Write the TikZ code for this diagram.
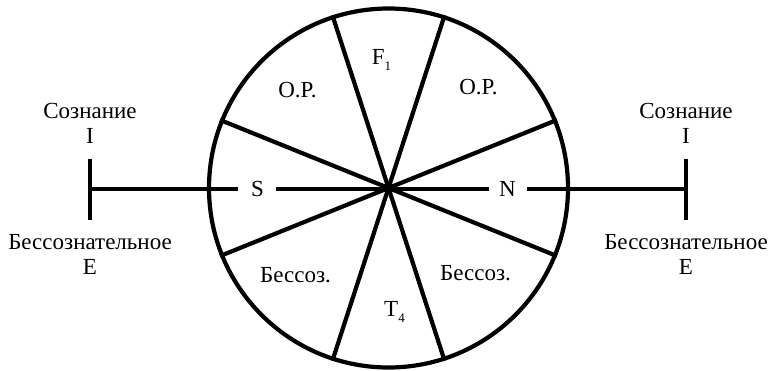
\documentclass[tikz,border=0pt]{standalone}
\usepackage{fontspec}
\setmainfont{Liberation Serif}
\usepackage{tikz}
\usetikzlibrary{positioning}
\newcommand{\bigtxt}{\fontsize{23}{25}\selectfont}
\newcommand{\lowidx}[1]{\raisebox{-6pt}{\fontsize{13}{13}\selectfont #1}}
\tikzset{
  rim/.style    ={circle,draw=black,line width=4.2pt,minimum size=359pt,inner sep=0pt},
  spoke/.style  ={line width=4.2pt,draw=black},
  axis/.style   ={line width=4.5pt,draw=black},
  sector/.style ={inner sep=0pt,font=\bigtxt},
  pole/.style   ={inner sep=0pt,align=center,font=\bigtxt},
  gapnode/.style={fill=white,inner sep=0pt,minimum width=38pt,minimum height=22pt,font=\bigtxt}
}

\begin{document}
\begin{tikzpicture}[x=1pt,y=1pt]
  \useasboundingbox (-388.5,-182) rectangle (384.5,188);
  % the wheel and its four diameters
  \node[rim] (wheel) at (0,0) {};
  \foreach \a/\b in {22/202,72/252,108/288,158/338}
    \draw[spoke] (wheel.\a) -- (wheel.\b);
  % the axis with its two end ticks
  \coordinate (ltop) at (-298.5,29);
  \coordinate (lbot) at (-298.5,-32);
  \coordinate (lmid) at (-298.5,-1);
  \coordinate (rtop) at (297.5,29);
  \coordinate (rbot) at (297.5,-32);
  \coordinate (rmid) at (297.5,-1);
  \draw[axis] (ltop) -- (lbot);
  \draw[axis] (rtop) -- (rbot);
  \draw[axis] (lmid) -- (rmid);
  \node[gapnode] (sens) at (-131,-1) {S};
  \node[gapnode] (intu) at (119,-1) {N};
  % sector labels
  \node[sector] (opl) at (-91,98) {O.P.};
  \node[sector] (opr) at (90,101) {O.P.};
  \node[sector] (fone) at (-7,128) {F\lowidx{1}};
  \node[sector] (bsl) at (-93,-87) {Бессоз.};
  \node[sector] (bsr) at (87,-85) {Бессоз.};
  \node[sector] (tfour) at (6,-124) {T\lowidx{4}};
  % pole labels
  \node[pole,above=15pt of ltop] (lcon) {Сознание\\I};
  \node[pole,below=14pt of lbot] (lunc) {Бессознательное\\E};
  \node[pole,above=15pt of rtop] (rcon) {Сознание\\I};
  \node[pole,below=14pt of rbot] (runc) {Бессознательное\\E};
\end{tikzpicture}
\end{document}
